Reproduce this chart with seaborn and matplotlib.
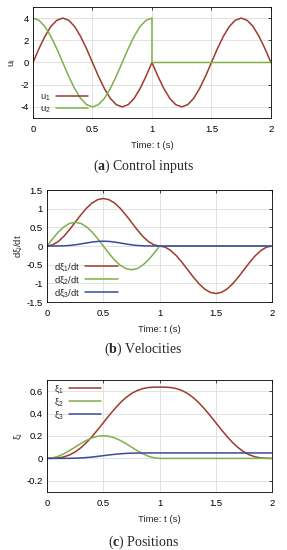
import numpy as np
import matplotlib
matplotlib.use('Agg')
import matplotlib.pyplot as plt
import matplotlib.ticker as mticker
import seaborn as sns
import pandas as pd

# time grid (s)
t = [0.0, 0.05, 0.1, 0.15, 0.2, 0.25, 0.3, 0.35, 0.4, 0.45, 0.5,
     0.55, 0.6, 0.65, 0.7, 0.75, 0.8, 0.85, 0.9, 0.95, 1.0,
     1.05, 1.1, 1.15, 1.2, 1.25, 1.3, 1.35, 1.4, 1.45, 1.5,
     1.55, 1.6, 1.65, 1.7, 1.75, 1.8, 1.85, 1.9, 1.95, 2.0]

# control inputs
u1 = [0, 1.24, 2.35, 3.24, 3.80, 4.0, 3.80, 3.24, 2.35, 1.24, 0,
      -1.24, -2.35, -3.24, -3.80, -4.0, -3.80, -3.24, -2.35, -1.24, 0,
      -1.24, -2.35, -3.24, -3.80, -4.0, -3.80, -3.24, -2.35, -1.24, 0,
      1.24, 2.35, 3.24, 3.80, 4.0, 3.80, 3.24, 2.35, 1.24, 0]
# u2 jumps to zero at t = 1
t_u2 = t[:21] + [1.0, 2.0]
u2 = [4.0, 3.80, 3.24, 2.35, 1.24, 0, -1.24, -2.35, -3.24, -3.80, -4.0,
      -3.80, -3.24, -2.35, -1.24, 0, 1.24, 2.35, 3.24, 3.80, 4.0,
      0, 0]

# velocities
dxi1 = [0, 0.031, 0.122, 0.262, 0.440, 0.637, 0.833, 1.011, 1.152, 1.242, 1.273,
        1.242, 1.152, 1.011, 0.833, 0.637, 0.440, 0.262, 0.122, 0.031, 0,
        -0.031, -0.122, -0.262, -0.440, -0.637, -0.833, -1.011, -1.152, -1.242, -1.273,
        -1.242, -1.152, -1.011, -0.833, -0.637, -0.440, -0.262, -0.122, -0.031, 0]
dxi2 = [0, 0.197, 0.374, 0.515, 0.605, 0.637, 0.605, 0.515, 0.374, 0.197, 0,
        -0.197, -0.374, -0.515, -0.605, -0.637, -0.605, -0.515, -0.374, -0.197, 0,
        0, 0, 0, 0, 0, 0, 0, 0, 0, 0,
        0, 0, 0, 0, 0, 0, 0, 0, 0, 0]
dxi3 = [0, 0.0001, 0.0012, 0.0055, 0.0154, 0.0323, 0.0553, 0.0815, 0.1057, 0.1229, 0.1292,
        0.1229, 0.1057, 0.0815, 0.0553, 0.0323, 0.0154, 0.0055, 0.0012, 0.0001, 0,
        0, 0, 0, 0, 0, 0, 0, 0, 0, 0,
        0, 0, 0, 0, 0, 0, 0, 0, 0, 0]

# positions
xi1 = [0, 0.0005, 0.0041, 0.0135, 0.0310, 0.0578, 0.0946, 0.1408, 0.1951, 0.2552, 0.3183,
       0.3815, 0.4415, 0.4958, 0.5420, 0.5788, 0.6057, 0.6231, 0.6325, 0.6361, 0.6366,
       0.6361, 0.6325, 0.6231, 0.6057, 0.5788, 0.5420, 0.4958, 0.4415, 0.3815, 0.3183,
       0.2552, 0.1951, 0.1408, 0.0946, 0.0578, 0.0310, 0.0135, 0.0041, 0.0005, 0]
xi2 = [0, 0.0050, 0.0194, 0.0417, 0.0700, 0.1013, 0.1326, 0.1609, 0.1832, 0.1976, 0.2026,
       0.1976, 0.1832, 0.1609, 0.1326, 0.1013, 0.0700, 0.0417, 0.0194, 0.0050, 0,
       0, 0, 0, 0, 0, 0, 0, 0, 0, 0,
       0, 0, 0, 0, 0, 0, 0, 0, 0, 0]
xi3 = [0, 0.0000, 0.0000, 0.0002, 0.0007, 0.0018, 0.0040, 0.0074, 0.0121, 0.0179, 0.0242,
       0.0306, 0.0363, 0.0410, 0.0444, 0.0466, 0.0478, 0.0483, 0.0484, 0.0485, 0.0485,
       0.0485, 0.0485, 0.0485, 0.0485, 0.0485, 0.0485, 0.0485, 0.0485, 0.0485, 0.0485,
       0.0485, 0.0485, 0.0485, 0.0485, 0.0485, 0.0485, 0.0485, 0.0485, 0.0485, 0.0485]

red = '#9c3b2b'
green = '#7fb04a'
blue = '#3b4a9c'

sns.set_style("whitegrid")
plt.rcParams['font.family'] = ['Liberation Sans', 'DejaVu Sans']
plt.rcParams['axes.unicode_minus'] = False
plt.rcParams['mathtext.fontset'] = 'custom'
plt.rcParams['mathtext.rm'] = 'Liberation Sans'
plt.rcParams['mathtext.it'] = 'Liberation Sans'
plt.rcParams['mathtext.bf'] = 'Liberation Serif:bold'

fs = 6.8
lw = 1.1
fig = plt.figure(figsize=(2.87, 5.5), dpi=100)


def style_axes(ax, ylim, yticks, ylabel):
    ax.set_xlim(0, 2)
    ax.set_ylim(ylim)
    ax.set_xticks([0, 0.5, 1, 1.5, 2])
    ax.set_yticks(yticks)
    fmt = mticker.FuncFormatter(lambda v, p: '%g' % round(v, 3))
    ax.xaxis.set_major_formatter(fmt)
    ax.yaxis.set_major_formatter(fmt)
    ax.tick_params(labelsize=fs, length=2.5, width=0.5, direction='in',
                   pad=3, top=True, right=True, colors='black')
    ax.tick_params(axis='x', pad=5)
    ax.grid(True, color='#dddddd', linewidth=0.6)
    for s in ax.spines.values():
        s.set_edgecolor('black')
        s.set_linewidth(0.6)
    ax.set_xlabel('Time: t (s)', fontsize=fs, labelpad=5)
    ax.set_ylabel(ylabel, fontsize=fs, labelpad=2)


def add_legend(ax, loc, anchor):
    ax.legend(loc=loc, bbox_to_anchor=anchor, frameon=False,
              fontsize=fs, markerfirst=False, handlelength=3.4,
              handletextpad=0.6, labelspacing=0.1, borderpad=0.2)


# (a) control inputs
ax1 = fig.add_axes([0.115, 0.7855, 0.829, 0.2018])
sns.lineplot(x=t, y=u1, ax=ax1, color=red, lw=lw, label='u$_1$')
sns.lineplot(x=t_u2, y=u2, ax=ax1, color=green, lw=lw, label='u$_2$',
             estimator=None, sort=False)
style_axes(ax1, (-5, 5), [-4, -2, 0, 2, 4], 'u$_\\mathrm{i}$')
add_legend(ax1, 'lower left', (0.0, -0.03))
fig.text(0.5, 0.698, r'($\mathbf{a}$) Control inputs', ha='center', va='center',
         fontsize=10, family='Liberation Serif')

# (b) velocities
ax2 = fig.add_axes([0.164, 0.4509, 0.784, 0.2036])
sns.lineplot(x=t, y=dxi1, ax=ax2, color=red, lw=lw, label='dξ$_1$/dt')
sns.lineplot(x=t, y=dxi2, ax=ax2, color=green, lw=lw, label='dξ$_2$/dt')
sns.lineplot(x=t, y=dxi3, ax=ax2, color=blue, lw=lw, label='dξ$_3$/dt')
style_axes(ax2, (-1.5, 1.5), [-1.5, -1, -0.5, 0, 0.5, 1, 1.5], 'dξ$_\\mathrm{i}$/dt')
add_legend(ax2, 'lower left', (0.0, -0.03))
fig.text(0.5, 0.364, r'($\mathbf{b}$) Velocities', ha='center', va='center',
         fontsize=10, family='Liberation Serif')

# (c) positions
ax3 = fig.add_axes([0.164, 0.1055, 0.784, 0.2036])
sns.lineplot(x=t, y=xi1, ax=ax3, color=red, lw=lw, label='ξ$_1$')
sns.lineplot(x=t, y=xi2, ax=ax3, color=green, lw=lw, label='ξ$_2$')
sns.lineplot(x=t, y=xi3, ax=ax3, color=blue, lw=lw, label='ξ$_3$')
style_axes(ax3, (-0.3, 0.7), [-0.2, 0, 0.2, 0.4, 0.6], 'ξ$_\\mathrm{i}$')
add_legend(ax3, 'upper left', (0.0, 1.03))
fig.text(0.5, 0.0145, r'($\mathbf{c}$) Positions', ha='center', va='center',
         fontsize=10, family='Liberation Serif')

fig.savefig('out.png', dpi=100)
